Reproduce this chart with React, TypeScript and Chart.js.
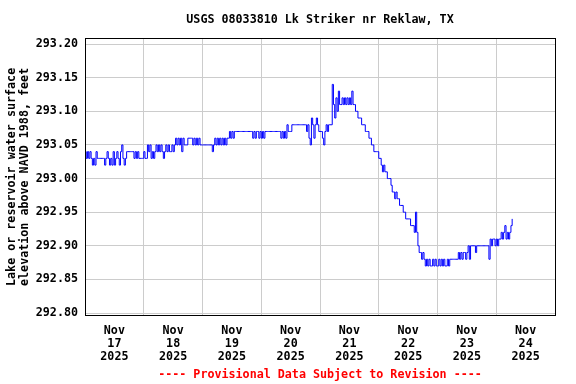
import { useEffect, useRef } from 'react';
import { Chart, registerables } from 'chart.js';

Chart.register(...registerables);

const stationTitle = 'USGS 08033810 Lk Striker nr Reklaw, TX';
const yAxisTitle = ['Lake or reservoir water surface', 'elevation above NAVD 1988, feet'];
const footnote = '---- Provisional Data Subject to Revision ----';
const monthLabel = 'Nov';
const yearLabel = '2025';
const dayLabels = ['17', '18', '19', '20', '21', '22', '23', '24'];
const xTickHours = [0, 12, 24, 36, 48, 60, 72, 84, 96, 108, 120, 132, 144, 156, 168, 180, 192];
const yTickValues = [292.8, 292.85, 292.9, 292.95, 293.0, 293.05, 293.1, 293.15, 293.2];
const readingStepHours = 0.5;

// Half-hourly lake stage (ft), starting Nov 17 00:00
const stage = [
  // h0-4
  293.04, 293.03, 293.04, 293.03, 293.04, 293.03, 293.02, 293.03, 293.02, 293.04,
  // h5-9
  293.03, 293.03, 293.03, 293.03, 293.03, 293.03, 293.02, 293.03, 293.04, 293.03,
  // h10-14
  293.02, 293.03, 293.02, 293.04, 293.02, 293.03, 293.04, 293.03, 293.02, 293.04,
  // h15-19
  293.05, 293.03, 293.02, 293.03, 293.04, 293.04, 293.04, 293.04, 293.04, 293.04,
  // h20-24
  293.03, 293.04, 293.03, 293.04, 293.03, 293.03, 293.03, 293.03, 293.04, 293.03,
  // h25-29
  293.03, 293.05, 293.04, 293.05, 293.03, 293.04, 293.03, 293.04, 293.05, 293.04,
  // h30-34
  293.05, 293.04, 293.05, 293.04, 293.03, 293.04, 293.05, 293.04, 293.05, 293.04,
  // h35-39
  293.04, 293.05, 293.04, 293.05, 293.06, 293.05, 293.06, 293.05, 293.06, 293.04,
  // h40-44
  293.06, 293.05, 293.05, 293.05, 293.06, 293.06, 293.06, 293.06, 293.05, 293.06,
  // h45-49
  293.05, 293.06, 293.05, 293.06, 293.05, 293.05, 293.05, 293.05, 293.05, 293.05,
  // h50-54
  293.05, 293.05, 293.05, 293.05, 293.04, 293.05, 293.06, 293.05, 293.06, 293.05,
  // h55-59
  293.06, 293.05, 293.06, 293.05, 293.06, 293.05, 293.06, 293.06, 293.07, 293.06,
  // h60-64
  293.07, 293.06, 293.07, 293.07, 293.07, 293.07, 293.07, 293.07, 293.07, 293.07,
  // h65-69
  293.07, 293.07, 293.07, 293.07, 293.07, 293.07, 293.07, 293.06, 293.07, 293.06,
  // h70-74
  293.07, 293.07, 293.06, 293.07, 293.06, 293.07, 293.06, 293.07, 293.07, 293.07,
  // h75-79
  293.07, 293.07, 293.07, 293.07, 293.07, 293.07, 293.07, 293.07, 293.07, 293.07,
  // h80-84
  293.06, 293.07, 293.06, 293.07, 293.06, 293.08, 293.07, 293.07, 293.07, 293.08,
  // h85-89
  293.08, 293.08, 293.08, 293.08, 293.08, 293.08, 293.08, 293.08, 293.08, 293.08,
  // h90-94
  293.08, 293.07, 293.08, 293.06, 293.05, 293.09, 293.08, 293.06, 293.08, 293.09,
  // h95-99
  293.08, 293.07, 293.07, 293.07, 293.06, 293.05, 293.07, 293.08, 293.07, 293.08,
  // h100-104
  293.08, 293.08, 293.14, 293.11, 293.09, 293.12, 293.10, 293.13, 293.11, 293.11,
  // h105-109
  293.12, 293.11, 293.12, 293.11, 293.12, 293.11, 293.12, 293.11, 293.13, 293.11,
  // h110-114
  293.11, 293.10, 293.10, 293.09, 293.09, 293.09, 293.08, 293.08, 293.08, 293.07,
  // h115-119
  293.07, 293.07, 293.06, 293.06, 293.05, 293.05, 293.04, 293.04, 293.04, 293.04,
  // h120-124
  293.03, 293.03, 293.02, 293.01, 293.02, 293.01, 293.01, 293.00, 293.00, 293.00,
  // h125-129
  292.99, 292.98, 292.98, 292.97, 292.98, 292.97, 292.97, 292.96, 292.96, 292.96,
  // h130-134
  292.95, 292.95, 292.94, 292.94, 292.94, 292.94, 292.93, 292.93, 292.93, 292.92,
  // h135-139
  292.95, 292.92, 292.90, 292.89, 292.89, 292.88, 292.89, 292.88, 292.87, 292.88,
  // h140-144
  292.87, 292.88, 292.87, 292.87, 292.88, 292.87, 292.88, 292.87, 292.87, 292.88,
  // h145-149
  292.87, 292.88, 292.87, 292.88, 292.87, 292.87, 292.88, 292.87, 292.88, 292.88,
  // h150-154
  292.88, 292.88, 292.88, 292.88, 292.88, 292.89, 292.88, 292.89, 292.88, 292.89,
  // h155-159
  292.89, 292.88, 292.89, 292.90, 292.88, 292.90, 292.90, 292.90, 292.90, 292.89,
  // h160-164
  292.90, 292.90, 292.90, 292.90, 292.90, 292.90, 292.90, 292.90, 292.90, 292.90,
  // h165-169
  292.88, 292.91, 292.90, 292.91, 292.91, 292.90, 292.91, 292.90, 292.91, 292.91,
  // h170-174
  292.92, 292.91, 292.92, 292.93, 292.91, 292.92, 292.91, 292.92, 292.93, 292.94,
];

const FONT = "'DejaVu Sans Mono', monospace";

const framePlugin = {
  id: 'frame',
  afterDraw(chart: any) {
    const { ctx, chartArea } = chart;
    const l = Math.round(chartArea.left) + 0.5;
    const t = Math.round(chartArea.top) + 0.5;
    const r = Math.round(chartArea.right) + 0.5;
    const b = Math.round(chartArea.bottom) + 0.5;
    ctx.save();
    ctx.strokeStyle = '#000000';
    ctx.lineWidth = 1;
    ctx.strokeRect(l, t, r - l, b - t);
    ctx.restore();
  },
};

export default function App() {
  const canvasRef = useRef<HTMLCanvasElement | null>(null);

  useEffect(() => {
    const canvas = canvasRef.current;
    if (!canvas) return;
    const points = stage.map((v, i) => ({ x: i * readingStepHours, y: v }));
    const chart = new Chart(canvas, {
      type: 'line',
      data: {
        datasets: [
          {
            data: points,
            borderColor: '#0000ff',
            borderWidth: 1,
            pointRadius: 0,
            stepped: true,
            fill: false,
          },
        ],
      },
      options: {
        animation: false,
        responsive: false,
        devicePixelRatio: 1,
        layout: { padding: { left: 0, right: 21, top: 0, bottom: 0 } },
        plugins: {
          legend: { display: false },
          tooltip: { enabled: false },
          title: {
            display: true,
            fullSize: false,
            text: stationTitle,
            color: '#000000',
            font: { family: FONT, size: 11.7, weight: 'bold', lineHeight: 1.2 },
            padding: { top: 12.5, bottom: 11.8 },
          },
          subtitle: {
            display: true,
            fullSize: false,
            position: 'bottom',
            text: footnote,
            color: '#ff0000',
            font: { family: FONT, size: 11.7, weight: 'bold', lineHeight: 1.2 },
            padding: { top: 0, bottom: 2 },
          },
        },
        scales: {
          x: {
            type: 'linear',
            min: 0,
            max: 192,
            afterBuildTicks: (scale: any) => {
              scale.ticks = xTickHours.map((h) => ({ value: h }));
            },
            afterFit: (scale: any) => {
              scale.height = 52.5;
            },
            ticks: {
              autoSkip: false,
              maxRotation: 0,
              minRotation: 0,
              padding: 9,
              color: '#000000',
              font: { family: FONT, size: 11.7, weight: 'bold', lineHeight: 1.111 },
              callback: (value: any) => {
                const h = Number(value);
                if (h % 24 !== 12) return '';
                const idx = (h - 12) / 24;
                return [monthLabel, dayLabels[idx], yearLabel];
              },
            },
            grid: {
              drawTicks: false,
              lineWidth: 1,
              color: (ctx: any) =>
                ctx.tick && ctx.tick.value % 24 === 0 ? '#cccccc' : 'rgba(0,0,0,0)',
            },
            border: { display: false },
          },
          y: {
            type: 'linear',
            min: 292.7964,
            max: 293.2085,
            afterBuildTicks: (scale: any) => {
              scale.ticks = yTickValues.map((v) => ({ value: v }));
            },
            afterFit: (scale: any) => {
              scale.width = 85;
            },
            ticks: {
              padding: 7,
              color: '#000000',
              font: { family: FONT, size: 11.7, weight: 'bold' },
              callback: (value: any) => Number(value).toFixed(2),
            },
            grid: { drawTicks: false, color: '#cccccc', lineWidth: 1 },
            border: { display: false },
            title: {
              display: true,
              text: yAxisTitle,
              color: '#000000',
              font: { family: FONT, size: 11.7, weight: 'bold', lineHeight: 1.15 },
              padding: { top: 4.75, bottom: 0 },
            },
          },
        },
      },
      plugins: [framePlugin],
    } as any);
    return () => chart.destroy();
  }, []);

  return (
    <div style={{ position: 'absolute', left: 0, top: 0, width: 576, height: 384, background: '#ffffff' }}>
      <canvas ref={canvasRef} width={576} height={384} style={{ display: 'block', width: 576, height: 384 }} />
    </div>
  );
}
